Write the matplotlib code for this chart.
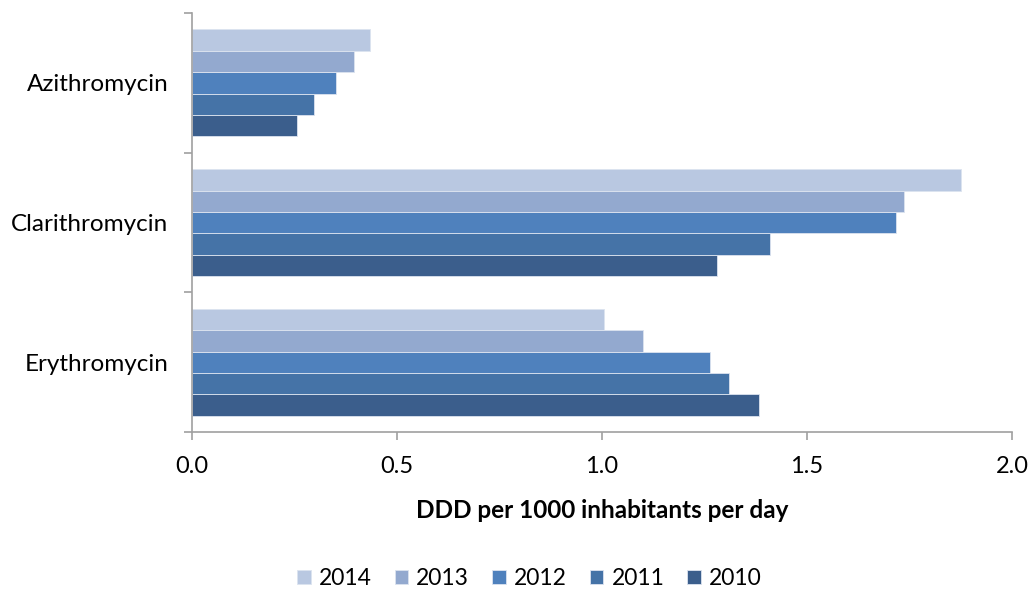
import matplotlib.pyplot as plt
import numpy as np

plt.rcParams['font.family'] = ['Lato', 'DejaVu Sans']

# data
drugs = ["Erythromycin", "Clarithromycin", "Azithromycin"]
years = ["2010", "2011", "2012", "2013", "2014"]
v2010 = [1.383, 1.28, 0.256]
v2011 = [1.31, 1.41, 0.298]
v2012 = [1.263, 1.717, 0.351]
v2013 = [1.10, 1.737, 0.395]
v2014 = [1.005, 1.876, 0.434]
series = [v2010, v2011, v2012, v2013, v2014]
colors = ["#3B5E8C", "#4573A7", "#4F81BD", "#93A9CF", "#B9C8E1"]

fig = plt.figure(figsize=(10.32, 5.92), dpi=100)
ax = fig.add_axes([0.186, 0.270, 0.7946, 0.708])

y = np.arange(len(drugs))
h = 0.153
handles = {}
for j, (vals, c, yr) in enumerate(zip(series, colors, years)):
    b = ax.barh(y + (j - 2) * h, vals, height=h, color=c,
                edgecolor="#DCE3EF", linewidth=0.6)
    handles[yr] = b

ax.set_xlim(0, 2.0)
ax.set_ylim(-0.5, 2.5)
ax.set_xticks([0, 0.5, 1.0, 1.5, 2.0])
ax.set_xticklabels(["0.0", "0.5", "1.0", "1.5", "2.0"], fontsize=17)
ax.set_yticks(y)
ax.set_yticklabels(drugs, fontsize=17.5)
ax.tick_params(axis='y', length=0, pad=17)
ax.set_yticks([-0.5, 0.5, 1.5, 2.5], minor=True)
ax.tick_params(axis='y', which='minor', length=6, color='#A0A0A0', width=1.2)
ax.tick_params(axis='x', length=6, color='#A0A0A0', width=1.2, pad=11)

for s in ['top', 'right']:
    ax.spines[s].set_visible(False)
for s in ['left', 'bottom']:
    ax.spines[s].set_color('#A0A0A0')
    ax.spines[s].set_linewidth(1.2)

ax.set_xlabel("DDD per 1000 inhabitants per day", fontsize=17.5,
              fontweight='bold', labelpad=16)

order = ["2014", "2013", "2012", "2011", "2010"]
fig.legend([handles[k] for k in order], order, loc='center',
           bbox_to_anchor=(0.513, 0.023), ncol=5, frameon=False,
           fontsize=16.5, handlelength=0.6, handleheight=0.6,
           handletextpad=0.35, columnspacing=1.0)

fig.savefig("out.png", dpi=100, facecolor='white')
